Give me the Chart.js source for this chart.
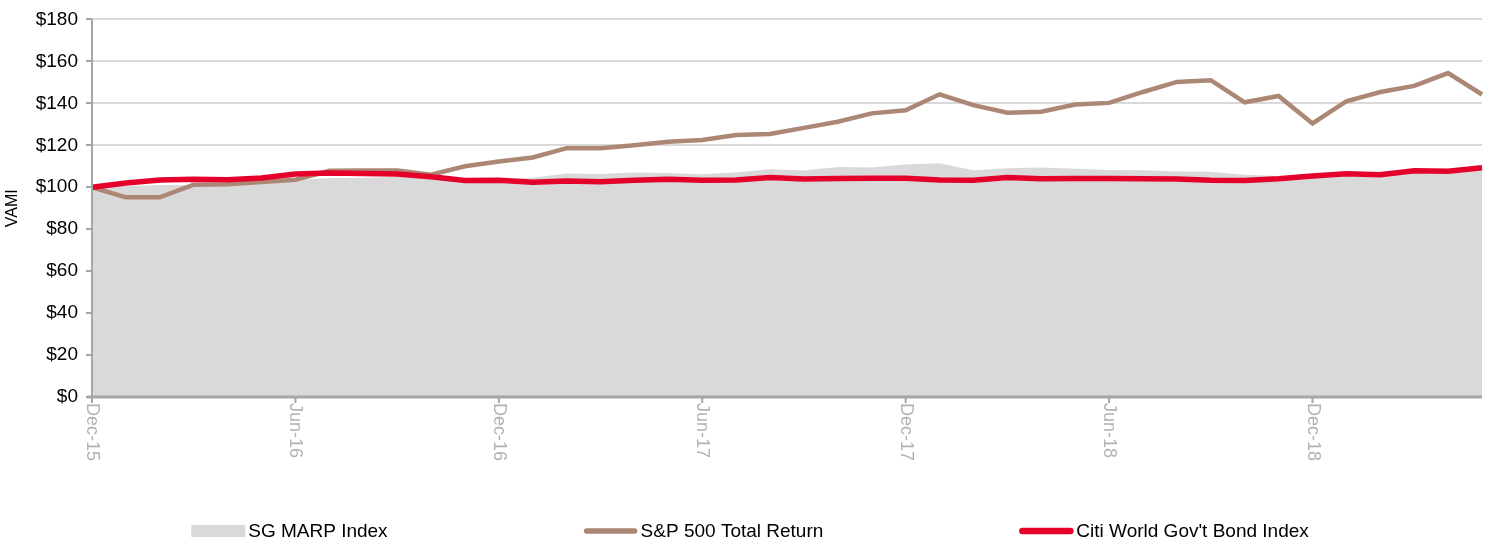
<!DOCTYPE html>
<html>
<head>
<meta charset="utf-8">
<script src="https://cdn.jsdelivr.net/npm/chart.js@4/dist/chart.umd.min.js"></script>
<style>
  html, body { margin: 0; padding: 0; background: #fff; }
  canvas { display: block; }
</style>
</head>
<body>
<canvas id="chart" width="1488" height="542"></canvas>
<script>
// month-end categories, Dec-15 .. May-19
var months = [
	'Dec-15','Jan-16','Feb-16','Mar-16','Apr-16','May-16','Jun-16','Jul-16','Aug-16','Sep-16','Oct-16','Nov-16',
	'Dec-16','Jan-17','Feb-17','Mar-17','Apr-17','May-17','Jun-17','Jul-17','Aug-17','Sep-17','Oct-17','Nov-17',
	'Dec-17','Jan-18','Feb-18','Mar-18','Apr-18','May-18','Jun-18','Jul-18','Aug-18','Sep-18','Oct-18','Nov-18',
	'Dec-18','Jan-19','Feb-19','Mar-19','Apr-19','May-19'
];

var sgMarp = [
	100, 100.5, 101, 101, 101.5, 102.5, 103.5, 104.4, 104.4, 105, 104.6, 103.5,
	103.8, 104.5, 106.5, 106.3, 107, 106.8, 106.2, 107.1, 108.6, 108, 109.6, 109.4,
	110.8, 111.4, 108.1, 109, 109.4, 108.8, 108.2, 108.1, 107.5, 107.4, 106, 105.3,
	105, 106.8, 107.4, 108.3, 108.8, 109.4
];

var sp500 = [
	100, 95.2, 95.2, 101.2, 101.4, 102.5, 103.6, 107.8, 108, 108, 106, 110,
	112.3, 114.2, 118.6, 118.6, 120, 121.7, 122.5, 124.9, 125.4, 128.3, 131.2, 135.2,
	136.7, 144.3, 139.1, 135.5, 136, 139.4, 140.2, 145.4, 150.2, 151, 140.5, 143.5,
	130.4, 141, 145.4, 148.3, 154.4, 144.2
];

var citiWgbi = [
	100, 102, 103.4, 103.8, 103.6, 104.4, 106.3, 106.8, 106.6, 106.3, 105, 103.2,
	103.3, 102.4, 103, 102.6, 103.3, 103.8, 103.3, 103.5, 104.6, 103.9, 104.2, 104.3,
	104.3, 103.4, 103.3, 104.6, 104, 104.1, 104.2, 104, 103.9, 103.3, 103.2, 104,
	105.4, 106.4, 106, 107.9, 107.6, 109.3
];

var seriesNames = ['SG MARP Index', 'S&P 500 Total Return', "Citi World Gov't Bond Index"];
var labelEvery = 6;

var FONT = '"Liberation Sans", Arial, sans-serif';
var AXIS_GREY = '#a6a6a6';

// axis lines, rotated month labels and the bottom legend
var decorPlugin = {
	id: 'decor',
	afterDatasetsDraw: function(chart){
		var ctx = chart.ctx,
			area = chart.chartArea,
			xs = chart.scales.x;

		ctx.save();
		ctx.strokeStyle = AXIS_GREY;
		ctx.lineWidth = 2;
		ctx.beginPath();
		ctx.moveTo(area.left, area.top);
		ctx.lineTo(area.left, area.bottom);
		ctx.stroke();

		ctx.lineWidth = 3;
		ctx.beginPath();
		ctx.moveTo(area.left - 5, area.bottom);
		ctx.lineTo(area.right, area.bottom);
		ctx.stroke();

		ctx.font = '18px ' + FONT;
		ctx.fillStyle = '#b2b2b2';
		ctx.textAlign = 'left';
		ctx.textBaseline = 'middle';
		for(var i = 0; i < months.length; i += labelEvery){
			var px = xs.getPixelForValue(i);
			ctx.lineWidth = 2;
			ctx.beginPath();
			ctx.moveTo(px, area.bottom);
			ctx.lineTo(px, area.bottom + 6);
			ctx.stroke();
			ctx.save();
			ctx.translate(px, area.bottom + 6);
			ctx.rotate(Math.PI / 2);
			ctx.fillText(months[i], 0, 0);
			ctx.restore();
		}

		// legend
		var sets = chart.data.datasets;
		var symW = 54, symGap = 3, itemGap = 196, ly = 531;
		ctx.font = '19px ' + FONT;
		var widths = [];
		var total = 0;
		for(var j = 0; j < sets.length; j++){
			widths[j] = symW + symGap + ctx.measureText(sets[j].label).width;
			total += widths[j];
		}
		total += itemGap * (sets.length - 1);
		var lx = 750 - total / 2;
		for(var k = 0; k < sets.length; k++){
			var ds = sets[k];
			if(ds.fill){
				ctx.fillStyle = ds.backgroundColor;
				ctx.fillRect(lx, ly - 6, symW, 12);
			}
			else{
				ctx.strokeStyle = ds.borderColor;
				ctx.lineWidth = ds.borderWidth + 1;
				ctx.lineCap = 'round';
				ctx.beginPath();
				ctx.moveTo(lx + 3, ly);
				ctx.lineTo(lx + symW - 3, ly);
				ctx.stroke();
			}
			ctx.fillStyle = '#000';
			ctx.textAlign = 'left';
			ctx.textBaseline = 'middle';
			ctx.fillText(ds.label, lx + symW + symGap, ly + 1);
			lx += widths[k] + itemGap;
		}
		ctx.restore();
	}
};

var chart = new Chart(document.getElementById('chart'), {
	type: 'line',
	data: {
		labels: months,
		datasets: [
			{
				label: seriesNames[0],
				data: sgMarp,
				fill: 'origin',
				backgroundColor: '#d9d9d9',
				borderWidth: 0,
				borderColor: 'rgba(0,0,0,0)',
				pointRadius: 0,
				order: 2
			},
			{
				label: seriesNames[1],
				data: sp500,
				fill: false,
				borderColor: '#ad8776',
				borderWidth: 4.5,
				pointRadius: 0,
				order: 1
			},
			{
				label: seriesNames[2],
				data: citiWgbi,
				fill: false,
				borderColor: '#e4002b',
				borderWidth: 5.5,
				pointRadius: 0,
				order: 0
			}
		]
	},
	options: {
		responsive: false,
		animation: false,
		devicePixelRatio: 1,
		layout: { padding: { left: 0, right: 6, top: 17, bottom: 0 } },
		plugins: {
			legend: { display: false },
			tooltip: { enabled: false }
		},
		elements: { line: { tension: 0 } },
		scales: {
			x: {
				grid: { display: false },
				border: { display: false },
				ticks: { display: false },
				afterFit: function(scale){ scale.height = 145; }
			},
			y: {
				min: 0,
				max: 180,
				border: { display: false },
				grid: {
					color: '#d9d9d9',
					lineWidth: 2,
					tickColor: AXIS_GREY,
					tickLength: 6
				},
				ticks: {
					stepSize: 20,
					padding: 8,
					color: '#000',
					font: { family: FONT, size: 19 },
					callback: function(v){ return '$' + v; }
				},
				title: {
					display: true,
					text: 'VAMI',
					color: '#000',
					font: { family: FONT, size: 16 },
					padding: { top: 3, bottom: 4 }
				},
				afterFit: function(scale){ scale.width = 92; }
			}
		}
	},
	plugins: [decorPlugin]
});
</script>
</body>
</html>
